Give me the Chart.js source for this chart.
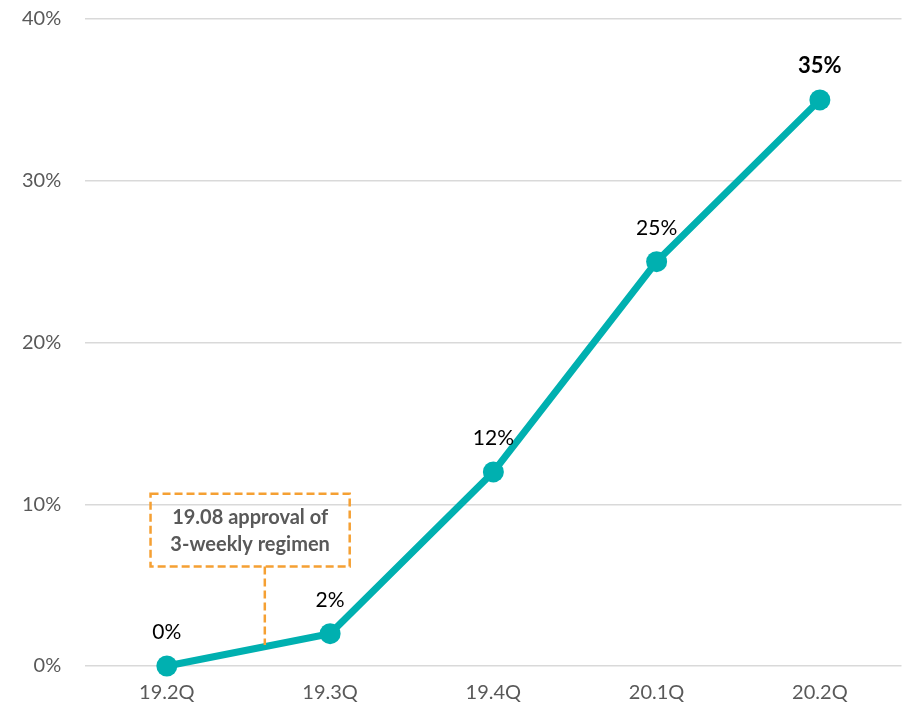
<!DOCTYPE html>
<html>
<head>
<meta charset="utf-8">
<script src="https://cdn.jsdelivr.net/npm/chart.js@4"></script>
<style>
  html, body { margin: 0; padding: 0; background: #fff; }
  #wrap { width: 912px; height: 708px; }
</style>
</head>
<body>
<div id="wrap"><canvas id="myChart" width="912" height="708"></canvas></div>
<script>
'use strict';

// ******* DATA *******
let quarters = ['19.2Q', '19.3Q', '19.4Q', '20.1Q', '20.2Q'];
let shareValues = [0, 2, 12, 25, 35];
let yTicks = [0, 10, 20, 30, 40];
let noteLines = ['19.08 approval of', '3-weekly regimen'];

let teal = '#00B0B0';
let gray = '#595959';
let orange = '#F5A033';
let fontFam = 'Lato, "Open Sans", sans-serif';

// ******* PLUGINS *******
let valueLabels = {
  id: 'valueLabels',
  afterDatasetsDraw(chart) {
    let ctx = chart.ctx;
    let meta = chart.getDatasetMeta(0);
    ctx.save();
    ctx.textAlign = 'center';
    ctx.textBaseline = 'alphabetic';
    ctx.fillStyle = '#000';
    meta.data.forEach((pt, i) => {
      let last = i === meta.data.length - 1;
      ctx.font = (last ? 'bold 22px ' : '21px ') + fontFam;
      ctx.fillText(shareValues[i] + '%', pt.x, pt.y - 27);
    });
    ctx.restore();
  }
};

let noteBox = {
  id: 'noteBox',
  afterDatasetsDraw(chart) {
    let ctx = chart.ctx;
    let xs = chart.scales.x;
    let ys = chart.scales.y;
    let left = xs.getPixelForValue(-0.1);
    let right = xs.getPixelForValue(1.12);
    let top = ys.getPixelForValue(10.65);
    let bottom = ys.getPixelForValue(6.15);
    let lineX = xs.getPixelForValue(0.6);
    let lineEnd = ys.getPixelForValue(1.3);
    ctx.save();
    ctx.strokeStyle = orange;
    ctx.lineWidth = 2.5;
    ctx.setLineDash([8, 4]);
    ctx.strokeRect(left, top, right - left, bottom - top);
    ctx.beginPath();
    ctx.moveTo(lineX, bottom);
    ctx.lineTo(lineX, lineEnd);
    ctx.stroke();
    ctx.setLineDash([]);
    ctx.fillStyle = gray;
    ctx.font = 'bold 20px ' + fontFam;
    ctx.textAlign = 'center';
    ctx.textBaseline = 'middle';
    let cx = (left + right) / 2;
    let cy = (top + bottom) / 2;
    ctx.fillText(noteLines[0], cx, cy - 13);
    ctx.fillText(noteLines[1], cx, cy + 14);
    ctx.restore();
  }
};

// ******* CHART *******
let ctx = document.getElementById('myChart').getContext('2d');

let myChartObj = {
  type: 'line',
  data: {
    labels: quarters,
    datasets: [{
      data: shareValues,
      borderColor: teal,
      backgroundColor: teal,
      borderWidth: 7,
      pointRadius: 10.5,
      pointHoverRadius: 10.5,
      pointBackgroundColor: teal,
      pointBorderWidth: 0,
      tension: 0,
      clip: false
    }]
  },
  options: {
    responsive: false,
    animation: false,
    layout: { padding: { top: 19, right: 1, left: 22, bottom: -12 } },
    plugins: {
      legend: { display: false },
      tooltip: { enabled: false }
    },
    scales: {
      x: {
        offset: true,
        grid: { display: false, drawTicks: false },
        border: { display: false },
        ticks: {
          color: gray,
          padding: 15,
          font: { size: 20, family: fontFam }
        }
      },
      y: {
        min: yTicks[0],
        max: yTicks[yTicks.length - 1],
        afterBuildTicks(axis) {
          axis.ticks = yTicks.map(v => ({ value: v }));
        },
        // tick marks are invisible, they only make the gap before the labels
        grid: { color: '#D9D9D9', lineWidth: 1.5, drawTicks: true, tickLength: 24, tickColor: 'rgba(0,0,0,0)' },
        border: { display: false },
        ticks: {
          color: gray,
          padding: 0,
          font: { size: 20, family: fontFam },
          callback: v => v + '%'
        }
      }
    }
  },
  plugins: [valueLabels, noteBox]
};

const myChart = new Chart(ctx, myChartObj);
</script>
</body>
</html>
